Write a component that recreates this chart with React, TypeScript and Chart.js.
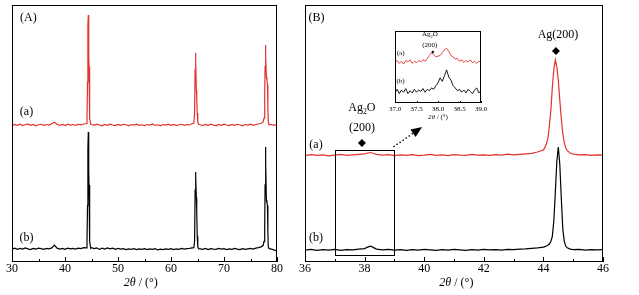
import React, { useEffect, useRef } from 'react';
import { Chart, registerables } from 'chart.js';
Chart.register(...registerables);

const RED = '#e3322b';
const SERIF = "'Liberation Serif', 'Times New Roman', serif";

// ---------- Panel A ----------
const aX = [
  30, 30.5, 31, 31.5, 32, 32.5, 33, 33.5, 34, 34.5, 35, 35.5, 36, 36.5, 37, 37.5, 38, 38.5, 39, 39.5, 40, 40.5, 41, 41.5, 42, 42.5, 43, 43.5,
  44.0, 44.15, 44.25, 44.32, 44.4, 44.47, 44.53, 44.6, 44.7, 44.85,
  45, 45.5, 46, 46.5, 47, 47.5, 48, 48.5, 49, 49.5, 50, 50.5, 51, 51.5, 52, 52.5, 53, 53.5, 54, 54.5, 55, 55.5, 56, 56.5, 57, 57.5, 58, 58.5, 59, 59.5, 60, 60.5, 61, 61.5, 62, 62.5, 63, 63.5, 64,
  64.3, 64.45, 64.55, 64.62, 64.7, 64.78, 64.85, 64.95, 65.05, 65.2,
  65.5, 66, 66.5, 67, 67.5, 68, 68.5, 69, 69.5, 70, 70.5, 71, 71.5, 72, 72.5, 73, 73.5, 74, 74.5, 75, 75.5, 76, 76.5, 77,
  77.4, 77.55, 77.68, 77.75, 77.82, 77.9, 78.0, 78.1, 78.2, 78.28, 78.35, 78.5,
  79, 79.5, 80,
];
const aRed = [
  53.0, 53.5, 53.2, 53.6, 53.1, 53.4, 53.7, 53.2, 53.5, 53.0, 53.4, 53.6, 53.2, 53.5, 53.3, 53.8, 54.4, 53.6, 53.2, 53.5, 53.1, 53.6, 53.3, 53.5, 53.2, 53.6, 53.4, 53.7,
  53.8, 56, 70, 92, 96.1, 82, 76, 64, 56, 53.6,
  53.5, 53.2, 53.6, 53.3, 53.0, 53.5, 53.2, 53.6, 53.3, 53.1, 53.5, 53.2, 53.6, 53.4, 53.0, 53.5, 53.3, 53.6, 53.2, 53.4, 53.1, 53.5, 53.3, 53.7, 53.2, 53.4, 53.0, 53.5, 53.3, 53.6, 53.2, 53.5, 53.1, 53.4, 53.6, 53.2, 53.5, 53.4, 53.8,
  54, 58, 75, 81.3, 78, 67, 64, 58, 54.5, 53.6,
  53.4, 53.1, 53.5, 53.2, 53.6, 53.3, 53.0, 53.5, 53.2, 53.6, 53.3, 53.1, 53.5, 53.2, 53.6, 53.4, 53.0, 53.5, 53.3, 53.6, 53.2, 53.5, 53.7, 54.0,
  54.5, 56, 66, 76, 84.4, 80, 72, 70.8, 69, 60, 54.5, 53.4,
  53.5, 53.2, 53.6,
];
const aBlack = [
  5.0, 5.4, 4.9, 5.3, 5.0, 5.5, 5.1, 4.8, 5.3, 5.0, 5.4, 5.2, 4.9, 5.3, 5.1, 5.5, 6.6, 5.4, 5.0, 5.3, 4.9, 5.4, 5.1, 5.3, 5.0, 5.4, 5.2, 5.6,
  5.5, 8, 22, 44, 50.6, 36, 30, 20, 8, 5.3,
  5.6, 5.2, 5.5, 4.9, 5.4, 5.0, 5.5, 5.1, 5.4, 4.9, 5.3, 5.0, 5.2, 4.8, 5.1, 4.9, 5.2, 4.8, 5.1, 4.9, 5.2, 4.8, 5.1, 4.9, 5.2, 4.7, 5.0, 4.8, 5.1, 4.9, 5.2, 4.8, 5.1, 4.9, 5.3, 5.0, 5.2, 5.3, 5.5,
  5.6, 8, 28, 35, 33, 25, 20, 10, 6, 5.2,
  5.1, 4.9, 5.3, 4.8, 5.2, 5.0, 4.9, 5.3, 5.0, 5.2, 4.8, 5.1, 4.9, 5.3, 5.0, 4.8, 5.2, 4.9, 5.1, 5.3, 5.0, 5.4, 5.6, 5.9,
  6.5, 8, 14, 30, 44.7, 38, 24, 23, 22, 12, 6, 5.2,
  5.0, 4.6, 4.3,
];
const aTicks = [30, 40, 50, 60, 70, 80];
const aMinor = [35, 45, 55, 65, 75];

// ---------- Panel B ----------
const bX = [
  36.0, 36.2, 36.4, 36.6, 36.8, 37.0, 37.2, 37.4, 37.6, 37.8, 38.0,
  38.1, 38.2, 38.3, 38.4,
  38.6, 38.8, 39.0, 39.2, 39.4, 39.6, 39.8, 40.0, 40.2, 40.4, 40.6, 40.8, 41.0, 41.2, 41.4, 41.6, 41.8, 42.0, 42.2, 42.4, 42.6, 42.8, 43.0, 43.2, 43.4, 43.6, 43.8, 44.0,
  44.05, 44.1, 44.15, 44.2, 44.25, 44.3, 44.35, 44.4, 44.45, 44.5, 44.55, 44.6, 44.65, 44.7, 44.75, 44.8,
  44.9, 45.0, 45.2, 45.4, 45.6, 45.8, 46.0,
];
const bRed = [
  41.4, 41.8, 41.5, 41.7, 41.3, 41.6, 41.9, 41.5, 41.7, 41.9, 42.1,
  42.4, 42.6, 42.2, 41.9,
  41.6, 41.8, 41.4, 41.7, 41.5, 41.8, 41.4, 41.6, 41.9, 41.5, 41.7, 41.4, 41.8, 41.6, 41.5, 41.9, 41.6, 41.7, 41.5, 41.8, 41.6, 42.0, 41.7, 41.9, 42.1, 42.3, 42.8, 43.6,
  44.5, 46, 48, 53, 59, 68, 75, 78.6, 76, 70.8, 63, 56, 50, 46.5, 44.4, 43.3,
  42.4, 42.0, 41.7, 41.8, 41.5, 41.7, 41.6,
];
const bBlack = [
  4.6, 4.9, 4.5, 4.8, 4.6, 4.9, 4.5, 4.8, 4.7, 5.0, 5.2,
  5.8, 6.2, 5.6, 5.0,
  4.7, 4.9, 4.6, 4.8, 4.5, 4.8, 4.6, 4.9, 4.7, 4.5, 4.8, 4.6, 4.9, 4.7, 4.5, 4.8, 4.6, 4.9, 4.7, 4.8, 4.6, 4.9, 4.8, 5.0, 5.1, 5.3, 5.5, 5.8,
  6.0, 6.2, 6.5, 7, 8, 10, 16, 27, 39, 44.7, 38, 25, 13, 8, 6.2, 5.5,
  5.0, 4.8, 4.9, 4.6, 4.8, 4.7, 4.8,
];
const bTicks = [36, 38, 40, 42, 44, 46];
const bMinor = [37, 39, 41, 43, 45];

// ---------- Inset ----------
const iX = [
  37.00, 37.05, 37.10, 37.15, 37.20, 37.25, 37.30, 37.35, 37.40, 37.45,
  37.50, 37.55, 37.60, 37.65, 37.70, 37.75, 37.80, 37.85, 37.90, 37.95,
  38.00, 38.05, 38.10, 38.15, 38.20, 38.25, 38.30, 38.35, 38.40, 38.45,
  38.50, 38.55, 38.60, 38.65, 38.70, 38.75, 38.80, 38.85, 38.90, 38.95, 39.00,
];
const iRed = [
  56, 59, 55, 58, 54, 59, 57, 60, 55, 58,
  56, 59, 57, 60, 58, 62, 66, 70, 67, 64,
  65, 66, 70, 74, 76, 72, 66, 64, 61, 62,
  58, 60, 56, 59, 57, 60, 56, 58, 55, 58, 57,
];
const iBlack = [
  14, 19, 13, 18, 15, 20, 13, 17, 14, 19,
  15, 18, 16, 20, 15, 19, 17, 21, 19, 24,
  28, 35, 30, 38, 46, 36, 32, 24, 21, 17,
  19, 15, 18, 14, 19, 16, 13, 18, 21, 14, 17,
];
const iTicks = [37.0, 37.5, 38.0, 38.5, 39.0];

// ---------- helpers ----------
type Fn = (v: number) => number;

function font(size: number, italic = false) {
  return `${italic ? 'italic ' : ''}${size}px ${SERIF}`;
}

function text(ctx: CanvasRenderingContext2D, s: string, x: number, y: number, size: number) {
  ctx.font = font(size);
  ctx.fillStyle = '#000';
  ctx.textAlign = 'center';
  ctx.textBaseline = 'middle';
  ctx.fillText(s, x, y);
}

function ag2o(ctx: CanvasRenderingContext2D, x: number, y: number, size: number) {
  ctx.fillStyle = '#000';
  ctx.textBaseline = 'middle';
  ctx.textAlign = 'left';
  const sub = size * 0.65;
  ctx.font = font(size);
  const w1 = ctx.measureText('Ag').width;
  const w3 = ctx.measureText('O').width;
  ctx.font = font(sub);
  const w2 = ctx.measureText('2').width;
  let cx = x - (w1 + w2 + w3) / 2;
  ctx.font = font(size);
  ctx.fillText('Ag', cx, y);
  cx += w1;
  ctx.font = font(sub);
  ctx.fillText('2', cx, y + size * 0.3);
  cx += w2;
  ctx.font = font(size);
  ctx.fillText('O', cx, y);
}

function diamond(ctx: CanvasRenderingContext2D, x: number, y: number, r: number) {
  ctx.fillStyle = '#000';
  ctx.beginPath();
  ctx.moveTo(x, y - r);
  ctx.lineTo(x + r, y);
  ctx.lineTo(x, y + r);
  ctx.lineTo(x - r, y);
  ctx.closePath();
  ctx.fill();
}

function axisTitle(ctx: CanvasRenderingContext2D, x: number, y: number, size: number) {
  ctx.fillStyle = '#000';
  ctx.textBaseline = 'middle';
  ctx.textAlign = 'left';
  ctx.font = font(size, true);
  const p1 = '2\u03B8';
  const w1 = ctx.measureText(p1).width;
  ctx.font = font(size);
  const p2 = ' / (\u00B0)';
  const w2 = ctx.measureText(p2).width;
  const sx = x - (w1 + w2) / 2;
  ctx.font = font(size, true);
  ctx.fillText(p1, sx, y);
  ctx.font = font(size);
  ctx.fillText(p2, sx + w1, y);
}

interface DecoOpts {
  major: number[];
  minor: number[];
  majorLen: number;
  minorLen: number;
  titleX: number;
  titleDy: number;
  titleSize: number;
  draw: (ctx: CanvasRenderingContext2D, X: Fn, Y: Fn) => void;
}

function decoPlugin(o: DecoOpts) {
  return {
    id: 'deco',
    afterDraw(chart: any) {
      const ctx: CanvasRenderingContext2D = chart.ctx;
      const a = chart.chartArea;
      const xs = chart.scales.x;
      const ys = chart.scales.y;
      const X: Fn = (v) => xs.getPixelForValue(v);
      const Y: Fn = (v) => ys.getPixelForValue(v);
      ctx.save();
      ctx.strokeStyle = '#000';
      ctx.lineWidth = 1;
      const l = Math.round(a.left), t = Math.round(a.top), r = Math.round(a.right), b = Math.round(a.bottom);
      ctx.strokeRect(l + 0.5, t + 0.5, r - l - 1, b - t - 1);
      ctx.beginPath();
      o.major.forEach((v) => {
        const px = Math.round(X(v)) + 0.5;
        ctx.moveTo(px, b);
        ctx.lineTo(px, b - o.majorLen);
      });
      o.minor.forEach((v) => {
        const px = Math.round(X(v)) + 0.5;
        ctx.moveTo(px, b);
        ctx.lineTo(px, b - o.minorLen);
      });
      ctx.stroke();
      axisTitle(ctx, X(o.titleX), b + o.titleDy, o.titleSize);
      o.draw(ctx, X, Y);
      ctx.restore();
    },
  };
}

function makeChart(
  canvas: HTMLCanvasElement,
  xs: number[],
  red: number[],
  black: number[],
  min: number,
  max: number,
  ticks: number[],
  pad: { left: number; right: number; top: number },
  axisH: number,
  tickSize: number,
  tickPad: number,
  lineW: number,
  decimals: number,
  plugin: any,
) {
  return new Chart(canvas, {
    type: 'line',
    data: {
      datasets: [
        {
          data: xs.map((x, i) => ({ x, y: black[i] })),
          borderColor: '#000',
          borderWidth: lineW,
          pointRadius: 0,
          tension: 0,
          fill: false,
        },
        {
          data: xs.map((x, i) => ({ x, y: red[i] })),
          borderColor: RED,
          borderWidth: lineW,
          pointRadius: 0,
          tension: 0,
          fill: false,
        },
      ],
    },
    options: {
      responsive: false,
      animation: false,
      events: [],
      layout: { padding: { left: pad.left, right: pad.right, top: pad.top, bottom: 0 } },
      plugins: { legend: { display: false }, tooltip: { enabled: false } },
      scales: {
        x: {
          type: 'linear',
          min,
          max,
          grid: { display: false, drawTicks: false },
          border: { display: false },
          ticks: {
            color: '#000',
            font: { family: SERIF, size: tickSize },
            padding: tickPad,
            autoSkip: false,
            maxRotation: 0,
            minRotation: 0,
            callback: (v: any) => Number(v).toFixed(decimals),
          },
          afterBuildTicks: (s: any) => {
            s.ticks = ticks.map((v) => ({ value: v }));
          },
          afterFit: (s: any) => {
            s.height = axisH;
          },
        },
        y: { display: false, min: 0, max: 100 },
      },
    } as any,
    plugins: [plugin],
  });
}

export default function App() {
  const aRef = useRef<HTMLCanvasElement>(null);
  const bRef = useRef<HTMLCanvasElement>(null);
  const iRef = useRef<HTMLCanvasElement>(null);

  useEffect(() => {
    const pA = decoPlugin({
      major: aTicks,
      minor: aMinor,
      majorLen: 5,
      minorLen: 3,
      titleX: 54.3,
      titleDy: 21,
      titleSize: 12,
      draw: (ctx, X, Y) => {
        text(ctx, '(A)', X(33.1), Y(94.9), 12);
        text(ctx, '(a)', X(32.74), Y(58.4), 12);
        text(ctx, '(b)', X(32.74), Y(9.3), 12);
      },
    });
    const pB = decoPlugin({
      major: bTicks,
      minor: bMinor,
      majorLen: 5,
      minorLen: 3,
      titleX: 41.08,
      titleDy: 21,
      titleSize: 12,
      draw: (ctx, X, Y) => {
        text(ctx, '(B)', X(36.39), Y(94.9), 12);
        text(ctx, '(a)', X(36.37), Y(45.5), 12);
        text(ctx, '(b)', X(36.37), Y(9.3), 12);
        ag2o(ctx, X(37.91), Y(59.9), 12);
        text(ctx, '(200)', X(37.91), Y(52.1), 12);
        diamond(ctx, X(37.91), Y(46.3), 4);
        text(ctx, 'Ag(200)', X(44.49), Y(88.3), 12);
        diamond(ctx, X(44.42), Y(82.1), 4);
        // zoom box
        ctx.strokeStyle = '#000';
        ctx.lineWidth = 1;
        const x0 = Math.round(X(37.0)) + 0.5, x1 = Math.round(X(39.0)) + 0.5;
        const y0 = Math.round(Y(43.6)) + 0.5, y1 = Math.round(Y(2.7)) + 0.5;
        ctx.strokeRect(x0, y0, x1 - x0, y1 - y0);
        // dotted arrow
        const sx = X(39.0) - 1, sy = Y(44.8);
        const tx = X(39.93), ty = Y(52.5);
        const dx = tx - sx, dy = ty - sy;
        const len = Math.hypot(dx, dy);
        const ux = dx / len, uy = dy / len;
        const hl = 11, hw = 4.5;
        const bx = tx - ux * hl, by = ty - uy * hl;
        ctx.save();
        ctx.setLineDash([1.5, 2.2]);
        ctx.lineWidth = 1.4;
        ctx.beginPath();
        ctx.moveTo(sx, sy);
        ctx.lineTo(bx, by);
        ctx.stroke();
        ctx.restore();
        ctx.fillStyle = '#000';
        ctx.beginPath();
        ctx.moveTo(tx, ty);
        ctx.lineTo(bx - uy * hw, by + ux * hw);
        ctx.lineTo(bx + uy * hw, by - ux * hw);
        ctx.closePath();
        ctx.fill();
      },
    });
    const pI = decoPlugin({
      major: iTicks,
      minor: [],
      majorLen: 2,
      minorLen: 1,
      titleX: 38.0,
      titleDy: 14,
      titleSize: 7,
      draw: (ctx, X, Y) => {
        ag2o(ctx, X(37.81), Y(95.2), 7);
        text(ctx, '(200)', X(37.81), Y(79.9), 7);
        diamond(ctx, X(37.88), Y(70.8), 1.6);
        text(ctx, '(a)', X(37.13), Y(69.4), 7);
        text(ctx, '(b)', X(37.13), Y(30.6), 7);
      },
    });

    const charts = [
      makeChart(aRef.current!, aX, aRed, aBlack, 30, 80, aTicks, { left: 12, right: 15, top: 5 }, 33, 12, 0, 1.2, 0, pA),
      makeChart(bRef.current!, bX, bRed, bBlack, 36, 46, bTicks, { left: 13, right: 36, top: 5 }, 33, 12, 0, 1.2, 0, pB),
      makeChart(iRef.current!, iX, iRed, iBlack, 37, 39, iTicks, { left: 10, right: 10, top: 7 }, 21, 7, 2, 0.9, 1, pI),
    ];
    return () => charts.forEach((c) => c.destroy());
  }, []);

  return (
    <div style={{ position: 'absolute', left: 0, top: 0, width: 639, height: 295, background: '#fff' }}>
      <canvas ref={aRef} width={292} height={295} style={{ position: 'absolute', left: 0, top: 0, width: 292, height: 295 }} />
      <canvas ref={bRef} width={347} height={295} style={{ position: 'absolute', left: 292, top: 0, width: 347, height: 295 }} />
      <canvas ref={iRef} width={106} height={100} style={{ position: 'absolute', left: 385, top: 24, width: 106, height: 100 }} />
    </div>
  );
}
